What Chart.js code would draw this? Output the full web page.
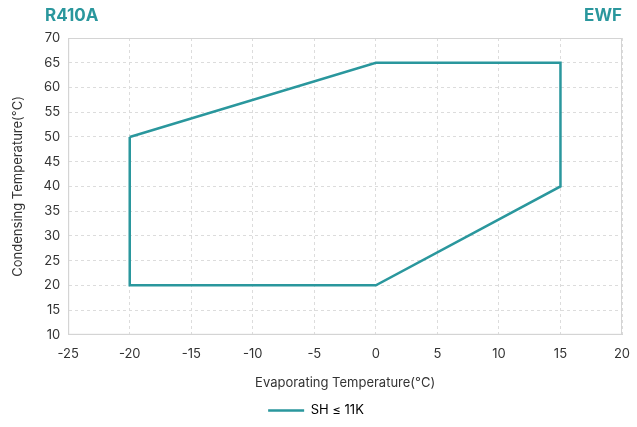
<!DOCTYPE html>
<html>
<head>
<meta charset="utf-8">
<style>
  html, body { margin: 0; padding: 0; background: #fff; }
  #wrap { width: 637px; height: 427px; position: relative; }
</style>
<script src="https://cdn.jsdelivr.net/npm/chart.js@4"></script>
</head>
<body>
<div id="wrap"><canvas id="c" width="637" height="427"></canvas></div>
<script>
// Operating envelope outline (evaporating vs condensing temperature, °C)
const evapTemps = [-20, -20, 0, 15, 15, 0, -20];
const condTemps = [50, 20, 20, 40, 65, 65, 50];
const seriesLabel = 'SH \u2264 11K';
const refrigerant = 'R410A';
const model = 'EWF';
const xTicks = [-25, -20, -15, -10, -5, 0, 5, 10, 15, 20];
const yTicks = [10, 15, 20, 25, 30, 35, 40, 45, 50, 55, 60, 65, 70];

const teal = '#2a979d';
const fontFamily = 'Inter, "Noto Sans", sans-serif';

// Heading texts above the plot and a solid frame round the plot area
const headerPlugin = {
  id: 'header',
  afterDraw(chart) {
    const { ctx, chartArea } = chart;
    ctx.save();
    ctx.fillStyle = teal;
    ctx.font = 'bold 17px ' + fontFamily;
    ctx.textBaseline = 'middle';
    ctx.textAlign = 'left';
    ctx.fillText(refrigerant, 45, 16);
    ctx.textAlign = 'right';
    ctx.fillText(model, chartArea.right, 16);
    ctx.restore();
  },
  beforeDatasetsDraw(chart) {
    const { ctx, chartArea: a } = chart;
    ctx.save();
    ctx.strokeStyle = '#d4d4d4';
    ctx.lineWidth = 1;
    ctx.strokeRect(a.left + 0.5, a.top + 0.5, a.right - a.left - 1, a.bottom - a.top - 1);
    ctx.restore();
  }
};

new Chart(document.getElementById('c'), {
  type: 'scatter',
  data: {
    datasets: [{
      label: seriesLabel,
      data: evapTemps.map((x, i) => ({ x, y: condTemps[i] })),
      showLine: true,
      borderColor: teal,
      backgroundColor: teal,
      borderWidth: 2.5,
      pointRadius: 0,
      tension: 0
    }]
  },
  options: {
    responsive: false,
    animation: false,
    layout: { padding: { top: 38, right: 15, left: 10, bottom: 0 } },
    plugins: {
      legend: {
        position: 'bottom',
        labels: {
          boxWidth: 36,
          boxHeight: 0,
          font: { family: fontFamily, size: 13 },
          color: '#333',
          generateLabels(chart) {
            return [{
              text: seriesLabel,
              strokeStyle: teal,
              fillStyle: teal,
              lineWidth: 2.5,
              datasetIndex: 0
            }];
          }
        }
      },
      tooltip: { enabled: false }
    },
    scales: {
      x: {
        type: 'linear',
        min: -25, max: 20,
        afterBuildTicks(axis) { axis.ticks = xTicks.map(v => ({ value: v })); },
        afterFit(axis) { axis.paddingRight = 0; },
        ticks: { font: { family: fontFamily, size: 13 }, color: '#333', padding: 11 },
        grid: { color: '#dcdcdc', drawTicks: false },
        border: { color: '#d4d4d4', dash: [3, 3] },
        title: {
          display: true,
          text: 'Evaporating Temperature(\u00b0C)',
          font: { family: fontFamily, size: 13 },
          color: '#333',
          padding: { top: 3, bottom: 3 }
        }
      },
      y: {
        min: 10, max: 70,
        afterBuildTicks(axis) { axis.ticks = yTicks.map(v => ({ value: v })); },
        ticks: { font: { family: fontFamily, size: 13 }, color: '#333', padding: 8 },
        grid: { color: '#dcdcdc', drawTicks: false },
        border: { color: '#d4d4d4', dash: [3, 3] },
        title: {
          display: true,
          text: 'Condensing Temperature(\u00b0C)',
          font: { family: fontFamily, size: 13 },
          color: '#333',
          padding: { top: 0, bottom: 10 }
        }
      }
    }
  },
  plugins: [headerPlugin]
});
</script>
</body>
</html>
